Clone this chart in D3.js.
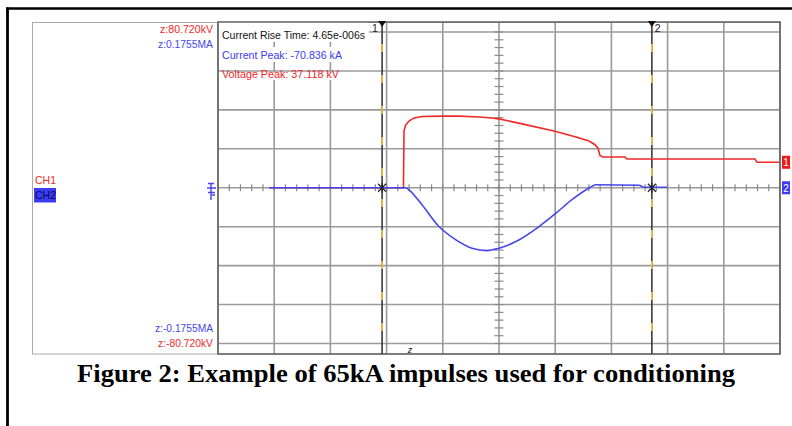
<!DOCTYPE html>
<html>
<head>
<meta charset="utf-8">
<script src="https://cdn.jsdelivr.net/npm/d3@7"></script>
<style>
  body { margin: 0; background: #fff; }
  svg { display: block; }
  text { font-family: "Liberation Sans", Arial, sans-serif; }
  text.caption { font-family: "Liberation Serif", "Times New Roman", serif; }
</style>
</head>
<body>
<div id="chart"></div>
<script>
// time in microseconds, voltage in kV (CH1), current in kA (CH2)
const voltTime = [-20.46, -8.5, -8.45, -8.3, -8.01, -7.56, -6.85, -4.89, -3.56, -1.78, -0.89, 0, 2.05, 4.89, 6.85, 8.01, 8.54, 8.81, 8.99, 9.25, 11.21, 11.39, 22.78, 22.95, 24.91];
const voltage  = [0, 0, 29.5, 32.5, 34.6, 36.2, 36.9, 37.1, 37.1, 36.7, 36.3, 35.7, 33.1, 29.4, 26.3, 24.2, 22.3, 20.5, 16.6, 15.9, 15.9, 14.9, 14.9, 13.2, 13.2];

const currTime = [-20.46, -8.27, -8.01, -6.85, -5.34, -3.83, -2.4, -1.07, 0, 1.51, 3.56, 5.07, 6.49, 8.01, 8.63, 12.46, 12.9, 14.95];
const current  = [0, 0, -2.3, -19.2, -43.7, -58.7, -68.1, -70.8, -68.1, -60.6, -43.7, -28.6, -13.5, -0.3, 3.4, 2.8, 0.6, 0.6];

const cursorTimes = [-10.4, 13.6];
const cursorNames = ["1", "2"];

const voltRange = 80.72;   // kV full scale (4 div)
const currRange = 175.5;   // kA full scale (4 div)

const infoLines = [
  { text: "Current Rise Time: 4.65e-006s", color: "#111" },
  { text: "Current Peak: -70.836 kA", color: "#3c3cf0" },
  { text: "Voltage Peak: 37.118 kV", color: "#f01e1e" }
];

const W = 792, H = 426;
const red = "#f02828", blue = "#4646ee";

const svg = d3.select("#chart").append("svg")
  .attr("width", W).attr("height", H);

// outer page frame (top + left rule)
svg.append("line").attr("x1", 6).attr("x2", W).attr("y1", 8.5).attr("y2", 8.5)
  .attr("stroke", "#000").attr("stroke-width", 2.6);
svg.append("line").attr("x1", 7.5).attr("x2", 7.5).attr("y1", 7.5).attr("y2", H)
  .attr("stroke", "#000").attr("stroke-width", 2.8);

// scope panel frame
svg.append("rect").attr("x", 32.5).attr("y", 22.5).attr("width", 747).attr("height", 331.5)
  .attr("fill", "none").attr("stroke", "#aaa").attr("stroke-width", 1);

const x = d3.scaleLinear().domain([-25, 25]).range([218, 780]);
const yV = d3.scaleLinear().domain([-voltRange, voltRange]).range([343.5, 32]);
const yI = d3.scaleLinear().domain([-currRange, currRange]).range([343.5, 32]);

const grid = svg.append("g");
// vertical grid lines
grid.selectAll(".vx").data(d3.range(-25, 26, 5)).enter().append("line")
  .attr("x1", d => x(d)).attr("x2", d => x(d))
  .attr("y1", 22).attr("y2", 354)
  .attr("stroke", "#9a9a9a").attr("stroke-width", 1.6);
// horizontal grid lines
grid.selectAll(".hy").data(d3.range(-4, 5).map(k => k * voltRange / 4)).enter().append("line")
  .attr("x1", 218).attr("x2", 780)
  .attr("y1", d => yV(d)).attr("y2", d => yV(d))
  .attr("stroke", "#9a9a9a").attr("stroke-width", 1.6);
// minor ticks on the centre lines
grid.selectAll(".tx").data(d3.range(-25, 25.01, 1)).enter().append("line")
  .attr("x1", d => x(d)).attr("x2", d => x(d))
  .attr("y1", yV(0) - 3.5).attr("y2", yV(0) + 3.5)
  .attr("stroke", "#8a8a8a").attr("stroke-width", 1.2);
grid.selectAll(".ty").data(d3.range(-20, 20.01, 1).map(k => k * voltRange / 20)).enter().append("line")
  .attr("x1", x(0) - 4.5).attr("x2", x(0) + 4.5)
  .attr("y1", d => yV(d)).attr("y2", d => yV(d))
  .attr("stroke", "#8a8a8a").attr("stroke-width", 1.2);

// plot border
svg.append("rect").attr("x", 218).attr("y", 22).attr("width", 562).attr("height", 332)
  .attr("fill", "none").attr("stroke", "#666").attr("stroke-width", 1.6);

// info text with white backing
const info = svg.append("g");
[[22.8, 19], [47, 15], [72.5, 7.5]].forEach((b, i) => {
  info.append("rect").attr("x", 219).attr("y", b[0])
    .attr("width", i === 0 ? 150 : 126).attr("height", b[1]).attr("fill", "#fff");
});
const infoW = [143, 120, 117];
info.selectAll("text").data(infoLines).enter().append("text")
  .attr("x", 222).attr("y", (d, i) => 39 + i * 19.5)
  .attr("font-size", 10.5)
  .attr("textLength", (d, i) => infoW[i]).attr("lengthAdjust", "spacingAndGlyphs")
  .attr("fill", d => d.color).text(d => d.text);

// cursors
const cur = svg.append("g");
cursorTimes.forEach((t, i) => {
  const cx = x(t);
  cur.append("line").attr("x1", cx).attr("x2", cx).attr("y1", 22).attr("y2", 354)
    .attr("stroke", "#3a3a3a").attr("stroke-width", 1.6);
  cur.append("line").attr("x1", cx).attr("x2", cx).attr("y1", 44).attr("y2", 340)
    .attr("stroke", "#f5c542").attr("stroke-width", 1.6).attr("stroke-dasharray", "8,23");
  cur.append("path")
    .attr("d", `M${cx - 4},21 L${cx + 4},21 L${cx},27 Z`).attr("fill", "#111");
  cur.append("text").attr("x", i === 0 ? cx - 10 : cx + 3).attr("y", 32)
    .attr("font-size", 10.5).attr("fill", "#222").text(cursorNames[i]);
});

// traces
const lineV = d3.line().x((d, i) => x(voltTime[i])).y(d => yV(d));
const lineI = d3.line().x((d, i) => x(currTime[i])).y(d => yI(d)).curve(d3.curveMonotoneX);
svg.append("path").datum(voltage).attr("d", lineV)
  .attr("fill", "none").attr("stroke", red).attr("stroke-width", 1.6);
svg.append("path").datum(current).attr("d", lineI)
  .attr("fill", "none").attr("stroke", blue).attr("stroke-width", 1.6);

// cursor crossing markers
cursorTimes.forEach(t => {
  const cx = x(t), cy = yV(0);
  svg.append("path")
    .attr("d", `M${cx - 4},${cy - 4}L${cx + 4},${cy + 4}M${cx - 4},${cy + 4}L${cx + 4},${cy - 4}M${cx},${cy - 5}L${cx},${cy + 5}`)
    .attr("stroke", "#222").attr("stroke-width", 1.2);
});

// left side scale labels
const leftLabels = [
  { text: "z:80.720kV", y: 33, w: 53, color: red },
  { text: "z:0.1755MA", y: 48, w: 55, color: blue },
  { text: "z:-0.1755MA", y: 332, w: 58, color: blue },
  { text: "z:-80.720kV", y: 347, w: 55, color: red }
];
svg.selectAll(".ll").data(leftLabels).enter().append("text")
  .attr("x", d => 213 - d.w).attr("y", d => d.y)
  .attr("font-size", 10.5)
  .attr("textLength", d => d.w).attr("lengthAdjust", "spacingAndGlyphs")
  .attr("fill", d => d.color).text(d => d.text);

// channel labels
svg.append("text").attr("x", 35).attr("y", 183.5).attr("font-size", 10.5)
  .attr("fill", red).text("CH1");
svg.append("rect").attr("x", 34).attr("y", 188).attr("width", 22).attr("height", 14.5)
  .attr("fill", "#3c3cf5");
svg.append("text").attr("x", 35).attr("y", 199).attr("font-size", 10.5)
  .attr("fill", "#0a0a50").text("CH2");

// ground marker at left edge
svg.append("path")
  .attr("d", "M208,183.5H214M211,183.5V200M207,188H216M208,192.5H215M212,195H215")
  .attr("stroke", blue).attr("stroke-width", 1.4).attr("fill", "none");

// channel markers on the right
const rightMarks = [
  { name: "1", y: yV(voltage[voltage.length - 1]), color: "#f01818" },
  { name: "2", y: yI(0), color: "#3c3cf5" }
];
rightMarks.forEach(m => {
  svg.append("rect").attr("x", 782).attr("y", m.y - 6.5).attr("width", 8).attr("height", 13)
    .attr("fill", m.color);
  svg.append("text").attr("x", 786).attr("y", m.y + 4).attr("text-anchor", "middle")
    .attr("font-size", 10).attr("fill", "#fff").text(m.name);
});

// trigger marker
svg.append("text").attr("x", 410).attr("y", 353).attr("text-anchor", "middle")
  .attr("font-size", 9).attr("font-style", "italic").attr("fill", "#222").text("z");

// caption
svg.append("text").attr("class", "caption").attr("x", 406).attr("y", 382).attr("text-anchor", "middle")
  .attr("font-weight", "bold").attr("font-size", 24.5)
  .attr("textLength", 658).attr("lengthAdjust", "spacingAndGlyphs")
  .attr("fill", "#000").text("Figure 2: Example of 65kA impulses used for conditioning");
</script>
</body>
</html>
